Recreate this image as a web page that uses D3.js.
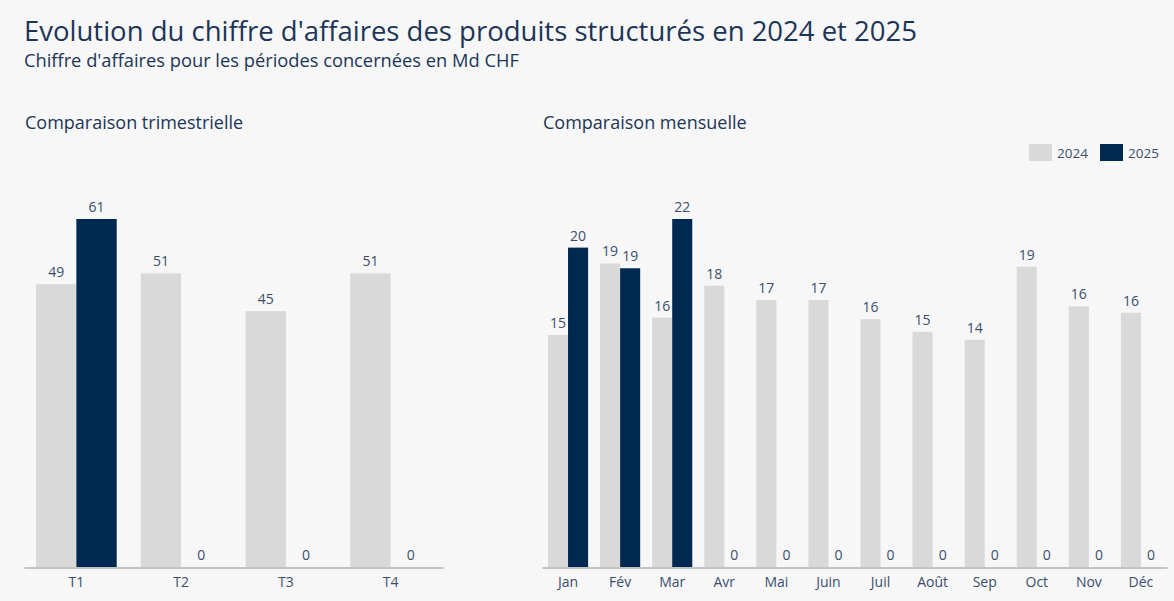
<!DOCTYPE html>
<html lang="fr">
<head>
    <meta charset="UTF-8">
    <title>Chiffre d'affaires des produits structurés</title>
    <style>
        body {
            margin: 0;
            padding: 0;
            background-color: #f7f7f7;
            font-family: 'Open Sans', 'Noto Sans', sans-serif;
        }
        .title { font-size: 27.5px; fill: #1c3557; }
        .subtitle { font-size: 18.3px; fill: #1c3557; }
        .panel-title { font-size: 18px; fill: #1c3557; }
        .value-label { font-size: 14px; fill: #3a4e6c; }
        .axis text { font-size: 14px; fill: #3a4e6c; font-family: 'Open Sans', 'Noto Sans', sans-serif; }
        .axis path { stroke: #8f8f8f; }
        .legend text { font-size: 13.5px; fill: #3a4e6c; }
    </style>
</head>
<body>
    <svg id="chart"></svg>

    <script src="https://d3js.org/d3.v7.min.js"></script>
    <script>
        // Data (Md CHF)
        const years = ['2024', '2025'];
        const quarters = ['T1', 'T2', 'T3', 'T4'];
        const quarterly2024 = [49.4, 51.3, 44.7, 51.3];
        const quarterly2025 = [60.8, 0, 0, 0];
        const months = ['Jan', 'Fév', 'Mar', 'Avr', 'Mai', 'Juin', 'Juil', 'Août', 'Sep', 'Oct', 'Nov', 'Déc'];
        const monthly2024 = [14.6, 19.1, 15.7, 17.7, 16.8, 16.8, 15.6, 14.8, 14.3, 18.9, 16.4, 16.0];
        const monthly2025 = [20.1, 18.8, 21.9, 0, 0, 0, 0, 0, 0, 0, 0, 0];

        const colors = { '2024': '#d9d9d9', '2025': '#002952' };

        const width = 1174;
        const height = 601;
        const baseY = 567;
        const topY = 219;

        const svg = d3.select('#chart')
            .attr('width', width)
            .attr('height', height);

        // Titles
        svg.append('text').attr('class', 'title')
            .attr('x', 24).attr('y', 41)
            .text("Evolution du chiffre d'affaires des produits structurés en 2024 et 2025");
        svg.append('text').attr('class', 'subtitle')
            .attr('x', 24).attr('y', 67)
            .text("Chiffre d'affaires pour les périodes concernées en Md CHF");

        function drawPanel(cats, s2024, s2025, x0, x1, label) {
            const g = svg.append('g');

            g.append('text').attr('class', 'panel-title')
                .attr('x', x0 + 1).attr('y', 129)
                .text(label);

            const rows = cats.map((c, i) => ({ cat: c, '2024': s2024[i], '2025': s2025[i] }));

            const x = d3.scaleBand()
                .domain(cats)
                .range([x0, x1])
                .paddingInner(0.23)
                .paddingOuter(0.115);

            const xi = d3.scaleBand()
                .domain(years)
                .range([0, x.bandwidth()]);

            const y = d3.scaleLinear()
                .domain([0, d3.max(s2024.concat(s2025))])
                .range([baseY, topY]);

            const groups = g.selectAll('.group')
                .data(rows)
                .enter()
                .append('g')
                .attr('transform', d => `translate(${x(d.cat)},0)`);

            const cells = groups.selectAll('g')
                .data(d => years.map(k => ({ key: k, value: d[k] })))
                .enter()
                .append('g');

            cells.append('rect')
                .attr('x', d => xi(d.key))
                .attr('y', d => y(d.value))
                .attr('width', xi.bandwidth())
                .attr('height', d => baseY - y(d.value))
                .attr('fill', d => colors[d.key]);

            cells.append('text')
                .attr('class', 'value-label')
                .attr('text-anchor', 'middle')
                .attr('x', d => xi(d.key) + xi.bandwidth() / 2)
                .attr('y', d => y(d.value) - 7)
                .text(d => d3.format('.0f')(d.value));

            g.append('g')
                .attr('class', 'axis')
                .attr('transform', `translate(0,${baseY + 0.5})`)
                .call(d3.axisBottom(x).tickSize(0).tickPadding(10))
                .call(a => a.selectAll('.tick line').remove());
        }

        drawPanel(quarters, quarterly2024, quarterly2025, 24, 443, 'Comparaison trimestrielle');
        drawPanel(months, monthly2024, monthly2025, 542, 1167, 'Comparaison mensuelle');

        // Legend
        const legend = svg.append('g').attr('class', 'legend');
        const legendX = [1029, 1100];
        years.forEach((yr, i) => {
            legend.append('rect')
                .attr('x', legendX[i]).attr('y', 144)
                .attr('width', 23).attr('height', 17)
                .attr('fill', colors[yr]);
            legend.append('text')
                .attr('x', legendX[i] + 28).attr('y', 157.5)
                .text(yr);
        });
    </script>
</body>
</html>
